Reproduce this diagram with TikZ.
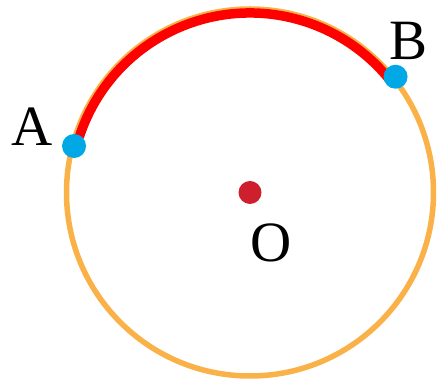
\documentclass[tikz,border=0pt]{standalone}
\usepackage{fontspec}
\setmainfont{Liberation Serif}
\usepackage{tikz}
\usetikzlibrary{calc,positioning}

\definecolor{circorange}{RGB}{250,178,72}
\definecolor{ptblue}{RGB}{0,168,230}
\definecolor{ctrred}{RGB}{205,32,44}

\begin{document}
\begin{tikzpicture}[x=1pt,y=1pt,
    pt/.style={circle,fill=ptblue,inner sep=0pt,minimum size=24pt},
    lbl/.style={inner sep=0pt,font=\fontsize{57}{60}\selectfont}]
  \useasboundingbox (0,0) rectangle (440,385);
  \coordinate (O) at (250,192.5);

  \draw[circorange,line width=5.5pt] (O) circle[radius=183.5];
  \draw[red,line width=9.5pt] ($(O)+(162:179.5)$) arc[start angle=162,end angle=37.5,radius=179.5];

  \node[circle,fill=ctrred,inner sep=0pt,minimum size=23pt] (dotO) at (O) {};
  \node[pt] (A) at ($(O)+(165.2:182)$) {};
  \node[pt] (B) at ($(O)+(38.5:186)$) {};

  \node[lbl] (labA) at ($(A)+(-42,19)$) {A};
  \node[lbl] (labB) at ($(B)+(13,36)$) {B};
  \node[lbl] (labO) at ($(O)+(21,-50)$) {O};
\end{tikzpicture}
\end{document}
